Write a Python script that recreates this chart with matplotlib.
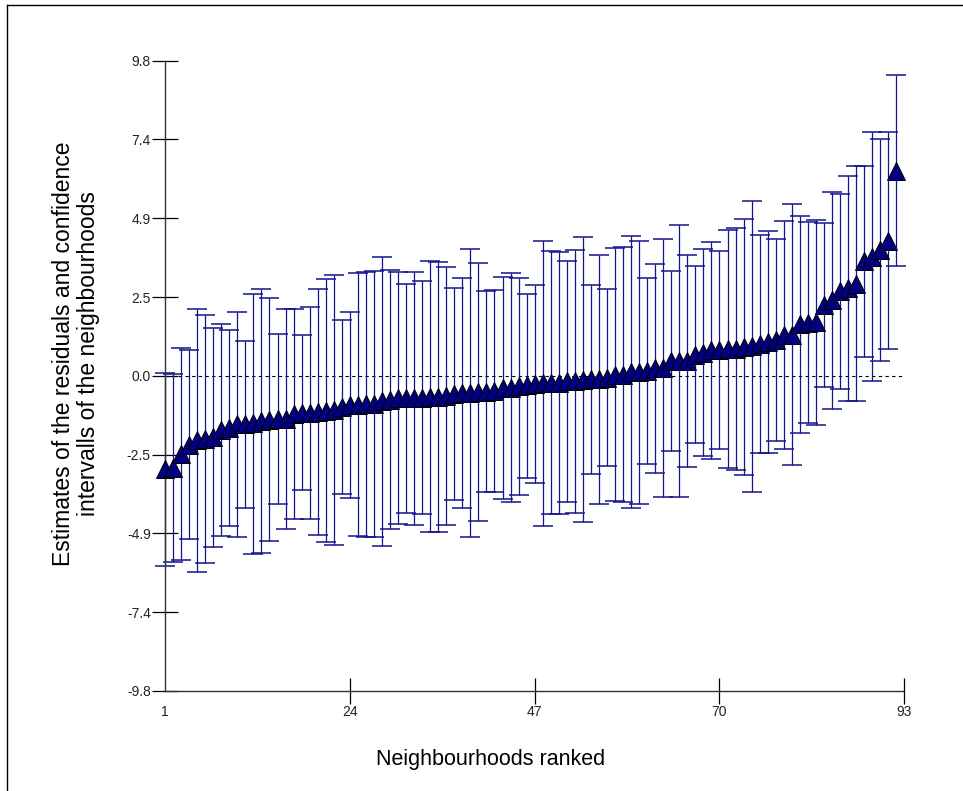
import numpy as np
import matplotlib
matplotlib.use("Agg")
import matplotlib.pyplot as plt
from matplotlib.lines import Line2D

# ---- data ----
estimates = [
    -2.90, -2.86, -2.44, -2.14, -2.00, -1.96, -1.91, -1.68, -1.61, -1.50,
    -1.50, -1.48, -1.41, -1.37, -1.35, -1.33, -1.19, -1.16, -1.14, -1.13,
    -1.09, -1.06, -0.97, -0.92, -0.90, -0.89, -0.87, -0.79, -0.74, -0.70,
    -0.69, -0.69, -0.68, -0.66, -0.65, -0.62, -0.56, -0.53, -0.53, -0.50,
    -0.49, -0.47, -0.38, -0.37, -0.32, -0.30, -0.25, -0.23, -0.21, -0.21,
    -0.17, -0.17, -0.12, -0.10, -0.10, -0.06, 0.04, 0.04, 0.11, 0.11,
    0.14, 0.23, 0.25, 0.46, 0.46, 0.46, 0.66, 0.72, 0.80, 0.80,
    0.83, 0.83, 0.90, 0.92, 0.99, 1.06, 1.12, 1.26, 1.28, 1.60,
    1.65, 1.66, 2.20, 2.35, 2.63, 2.72, 2.87, 3.56, 3.71, 3.90,
    4.20, 6.38]

upper = [
    0.10, 0.07, 0.86, 0.80, 2.09, 1.90, 1.50, 1.62, 1.44, 1.99,
    1.09, 2.56, 2.69, 2.41, 1.30, 2.09, 2.07, 1.26, 2.14, 2.69,
    3.00, 3.13, 1.73, 1.97, 3.19, 3.24, 3.27, 3.71, 3.29, 3.23,
    2.87, 3.24, 2.96, 3.56, 3.53, 3.40, 2.74, 3.05, 3.96, 3.52,
    2.63, 2.66, 3.08, 3.19, 3.05, 2.56, 2.84, 4.20, 3.89, 3.86,
    3.58, 3.92, 4.31, 2.84, 3.75, 2.69, 3.99, 4.02, 4.34, 4.20,
    3.03, 3.48, 4.27, 3.26, 4.70, 3.75, 3.42, 3.94, 4.17, 3.88,
    4.52, 4.59, 4.88, 5.44, 4.37, 4.51, 4.27, 4.80, 5.34, 4.98,
    4.77, 4.86, 4.74, 5.73, 5.67, 6.23, 6.52, 6.52, 7.58, 7.37,
    7.58, 9.34]

lower = [
    -5.90, -5.79, -5.74, -5.07, -6.10, -5.82, -5.32, -4.97, -4.66, -5.00,
    -4.10, -5.53, -5.51, -5.15, -4.00, -4.76, -4.45, -3.56, -4.45, -4.95,
    -5.18, -5.25, -3.67, -3.81, -4.99, -5.02, -5.01, -5.28, -4.76, -4.61,
    -4.25, -4.63, -4.31, -4.87, -4.85, -4.63, -3.85, -4.11, -5.01, -4.52,
    -3.61, -3.61, -3.82, -3.93, -3.69, -3.17, -3.33, -4.66, -4.31, -4.29,
    -3.93, -4.28, -4.56, -3.05, -3.97, -2.81, -3.90, -3.93, -4.11, -3.98,
    -2.74, -3.02, -3.77, -2.34, -3.78, -2.83, -2.10, -2.50, -2.58, -2.27,
    -2.87, -2.94, -3.07, -3.60, -2.39, -2.39, -2.03, -2.27, -2.78, -1.79,
    -1.48, -1.54, -0.35, -1.04, -0.42, -0.78, -0.78, 0.60, -0.16, 0.46,
    0.83, 3.42]

ranks = list(range(1, len(estimates) + 1))
x_ticks = [1, 24, 47, 70, 93]
y_ticks = [-9.8, -7.35, -4.9, -2.45, 0.0, 2.45, 4.9, 7.35, 9.8]
y_tick_labels = ["-9.8", "-7.4", "-4.9", "-2.5", "0.0", "2.5", "4.9", "7.4", "9.8"]
x_label = "Neighbourhoods ranked"
y_label = "Estimates of the residuals and confidence\nintervalls of the neighbourhoods"

# ---- figure ----
plt.rcParams['font.family'] = ['Liberation Sans', 'DejaVu Sans']
W, H = 963, 791
fig = plt.figure(figsize=(W / 100, H / 100), dpi=100)
ax = fig.add_axes([165 / W, (H - 691) / H, (904.3 - 165) / W, (691 - 60.7) / H])

est = np.array(estimates)
lo = np.array(lower)
hi = np.array(upper)
yerr = np.vstack([est - lo, hi - est])

ax.errorbar(ranks, est, yerr=yerr, fmt='none', ecolor='#14148c',
            elinewidth=0.9, capsize=7, capthick=1.1, zorder=2, clip_on=False)
ax.plot(ranks, est, linestyle='none', marker='^', markersize=13.5,
        markerfacecolor='#000080', markeredgecolor='black',
        markeredgewidth=0.7, zorder=3, clip_on=False)

ax.axhline(0, xmin=0, xmax=1, color='black', linestyle=(0, (3, 3)),
           linewidth=0.8, zorder=1)

ax.set_xlim(1, 93)
ax.set_ylim(-9.8, 9.8)
for s in ['top', 'right']:
    ax.spines[s].set_visible(False)
for s in ['left', 'bottom']:
    ax.spines[s].set_color('#333333')
    ax.spines[s].set_linewidth(1.0)

ax.set_xticks(x_ticks)
ax.set_xticklabels([str(t) for t in x_ticks])
ax.set_yticks(y_ticks)
ax.set_yticklabels(y_tick_labels)
ax.tick_params(axis='both', direction='inout', length=18.5, width=0.9,
               color='black', labelsize=10, pad=1, labelcolor='#222222')
ax.xaxis.get_major_ticks()[0].tick1line.set_visible(False)

fig.text(491 / W, (H - 760) / H, x_label, ha='center', va='center',
         fontsize=15.5)
fig.text(76 / W, (H - 354) / H, y_label, ha='center', va='center',
         rotation=90, fontsize=16.5, linespacing=1.12, multialignment='center')

# window frame (left and top edges)
fig.add_artist(Line2D([7 / W, 7 / W], [0, 1 - 5 / H], transform=fig.transFigure,
                      color='black', linewidth=1.0))
fig.add_artist(Line2D([7 / W, 1], [1 - 5 / H, 1 - 5 / H], transform=fig.transFigure,
                      color='black', linewidth=1.0))

fig.savefig("out.png", dpi=100)
